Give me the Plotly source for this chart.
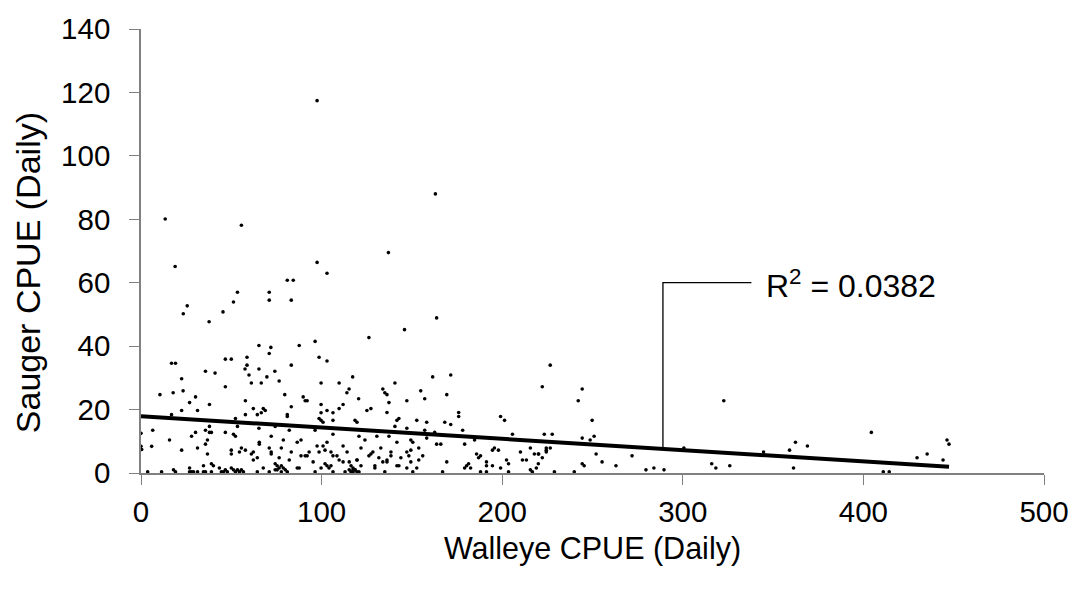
import plotly.graph_objects as go

# ---- data (Walleye CPUE vs Sauger CPUE, daily) ----
walleye = [
    0, 0, 0.4, 5.9, 6.5, 3.7,
    97.5, 13.4, 55.6, 18.9, 97.5, 103, 137, 163,
    81, 84.3, 53.4, 71, 71, 83.2, 51.2, 25.6, 23.4, 45.4, 37.7, 65.3, 71.9, 71, 87.6, 96.4, 98.6, 103,
    16.9, 19.1, 46.7, 50, 58.7, 58.7, 57.6, 65.3, 83.2, 35.7, 41, 59.8, 74.1, 69.7, 117.2, 22.5, 61.1,
    66.6, 76.5, 99.7, 109.7, 46.7, 115.2, 114, 10.5, 17.8, 23.3, 30.2, 79.6, 89.8, 90.9, 92, 120.5,
    26.9, 31.3, 22.5, 37.9, 57.8, 57.8, 62.2, 64.4, 66.6, 67.7, 68.8, 81, 81, 83.2, 99.7, 99.7, 98.6,
    99.7, 100.8, 103, 106.3, 106.3, 109.7, 111.9, 118.5, 119.6, 16.9, 52.3,
    37.9, 37.9, 35.7, 39, 53.4, 30.2, 28, 46.7, 51.2, 52.3, 65.3, 74.3, 82.1, 96.4, 106.3, 72.1, 65.5,
    65.5, 15.8, 22.5, 36.8, 35.7, 31.3, 36.8, 50, 50, 55.6, 54.5, 57.8, 62.2, 62.2, 61.1, 64.4, 71,
    72.1, 72.1, 78.8, 77.7, 76.5, 83.2, 82.1, 86.5, 88.6, 88.6, 90.9, 93.1, 92, 95.3,
    97.5, 98.6, 100.8, 101.9, 103, 105.2, 106.3, 108.5, 109.7, 111.9, 111.9, 114.1, 116.3, 119.6, 117.4,
    11.4, 18, 19.1, 26.9, 26.9, 28, 29.1, 31.3, 34.6, 34.6, 35.7, 39, 39, 40.1, 43.4, 44.5, 45.6, 46.7,
    47.8, 50, 51.2, 52.3, 53.4, 54.5, 55.6, 56.7, 64.4, 67.7, 71, 74.3, 74.3, 75.4, 75.4, 76.5, 77.7,
    77.7, 78.8, 79.9, 81, 86.5, 87.6, 96.4, 99.7, 101.9, 103, 104.1, 105.2, 106.3, 113, 117.4, 118.5, 119.6,
    163.7, 145.9, 126.2, 140.6, 161.5, 171.5, 133.9, 135, 136.2, 154.9, 157.1, 169.3, 147.2, 137.3,
    125.1, 127.3, 136.2, 175.9, 175.9, 199.1, 201.3, 222.2, 141.7, 142.8, 140.6, 152.7, 158.2, 168.2,
    171.5, 147.2, 157.1, 158.2, 162.6, 178.1, 205.7, 223.3, 120.7, 130.6, 137.3, 124, 141.7, 149.4,
    150.5, 163.7, 166, 179.2, 184.7, 224.4, 224.4, 121.8, 132.8, 138.4, 138.4, 128.4, 127.3, 126.2,
    147.2, 149.4, 148.3, 153.8, 156, 194.6, 195.7, 197.9, 185.8, 186.9, 188, 210.1, 215.6, 217.8, 220,
    211.2, 213.4, 222.2, 220, 115.3, 119.6, 121.8, 117.4, 129.5, 129.5, 131.7, 133.9, 136.2, 136.2,
    141.7, 142.8, 143.9, 147.2, 149.4, 150.5, 152.7, 153.8, 167, 169.3, 179.2, 180.3, 181.4, 182.5,
    188, 191.3, 191.3, 191.3, 194.6, 199.1, 202.4, 203.5, 203.5, 215.6, 216.7, 218.9, 115.3, 116.3,
    118.5, 120.7, 135,
    226.6, 244.3, 242.1, 249.8, 227.7, 244.3, 248.7, 250.9, 220.2, 224.4, 226.6, 228.9, 239.9, 244.3,
    245.4, 252, 255.3, 263, 271.9, 279.6, 284, 289.6, 300.6, 322.7, 316, 318.3, 326, 344.7,
    359.1, 362.4, 369, 361.3, 404.4, 411, 414.3, 429.7, 435.3, 444.1, 446.3, 447.4,
]
sauger = [
    12.5, 8.4, 7.4, 8.4, 13.5, 0.4,
    117.4, 80.1, 78.1, 65.1, 66.4, 63, 69.5, 88,
    60.8, 60.8, 57, 57, 54.5, 54.5, 53.9, 52.7, 50.2, 50.8, 47.7, 40.2, 39.6, 37.7, 40.2, 41.5, 36.5, 35.3,
    34.6, 34.6, 35.9, 35.9, 36.5, 34, 32.8, 32.8, 34, 32.1, 31.5, 30.9, 32.1, 30.3, 30.3, 29.7, 28.4,
    28.4, 29, 28.4, 28.4, 27.2, 26.5, 25.3, 24.7, 25.3, 25.9, 24, 24.7, 24, 22.8, 22.8, 23.4,
    22.2, 19.7, 19.7, 21.6, 22.8, 18.4, 20.3, 18.4, 19, 20.3, 19.7, 18.4, 17.8, 20.9, 21.6, 19, 17.2,
    16.6, 16, 19.7, 19, 16.6, 20.3, 21.6, 16.6, 16, 18.4, 17.2,
    14.7, 12.8, 13.5, 12.8, 14.7, 12.8, 11.6, 12.8, 12.2, 11.6, 14.1, 14.7, 13.5, 13.5, 12.2, 11.6, 9.7,
    9.1, 10.4, 7.2, 10.4, 9.1, 7.9, 6, 7.2, 6, 7.9, 6.6, 7.2, 6.6, 4.1, 6, 4.8, 7.9,
    6.6, 6, 10.4, 7.9, 4.8, 6.6, 4.1, 9.7, 10.4, 5.4, 5.4, 6.6, 5.4, 3.5,
    8.5, 6.6, 8.5, 7.2, 9.7, 6.6, 5.4, 5.4, 4.1, 8.5, 3.5, 6.6, 2.3, 4.1, 1.0,
    0.4, 1.0, 0.4, 1.6, 0.4, 0.4, 0.4, 0.4, 2.3, 0.4, 0.4, 2.9, 0.4, 2.3, 1.6, 0.4, 0.4, 1.0,
    0.4, 1.6, 1.0, 0.4, 1.0, 0.4, 1.0, 0.4, 0.4, 1.6, 0.4, 1.0, 2.9, 2.3, 1.0, 1.6, 2.3,
    0.4, 1.6, 1.0, 0.4, 1.6, 1.6, 0.4, 1.6, 2.9, 2.3, 1.6, 2.3, 0.4, 0.4, 0.4, 1.0, 0.4,
    48.9, 45.2, 42.7, 28.4, 30.3, 30.9, 26.5, 25.3, 24.7, 25.9, 23.4, 24.7, 22.8, 22.2,
    19.7, 20.3, 19.1, 19.1, 17.8, 17.8, 16.6, 27.2, 16.6, 17.2, 14.7, 16.6, 16, 16,
    15.3, 14.1, 13.5, 11, 12.8, 13.5, 12.2, 12.2, 11.6, 11.6, 11.6, 10.4, 9.7, 10.4,
    9.7, 9.1, 9.1, 9.1, 10.4, 7.9, 6.6, 7.9, 7.9, 6.6, 5.4, 6.6, 6, 5.4,
    6.6, 7.2, 5.4, 7.9, 5.4, 7.2, 7.9, 7.2, 6, 4.8, 5.4, 6.6, 7.9, 6, 6,
    4.1, 4.1, 4.8, 2.9, 3.5, 4.1, 2.3, 1.6, 2.3, 1.6, 4.8, 3.5, 4.1, 3.5,
    2.3, 2.3, 4.8, 1.6, 3.5, 0.4, 1.6, 4.1, 0.4, 3.5, 1.6, 2.3, 2.9, 1.6,
    0.4, 3.5, 2.3, 0.4, 2.3, 1.6, 4.1, 2.9, 0.4, 1.0, 0.4, 1.6, 1.0, 0.4,
    1.0, 0.4, 0.4,
    34, 26.5, 22.8, 16.6, 12.2, 11, 10.4, 11.6, 6, 7.2, 7.9, 0.4, 0.4, 2.9,
    2.3, 6, 3.5, 2.3, 5.4, 1.0, 1.6, 1.0, 7.9, 22.8, 2.9, 1.6, 2.3, 6.6,
    7.2, 9.7, 8.5, 1.6, 12.8, 0.4, 0.4, 4.8, 6, 4.1, 10.4, 9.1,
]

# linear trend (as shown in the reference)
trend_intercept = 17.9
trend_slope = -0.0356
trend_x = [0, max(walleye)]
trend_y = [trend_intercept + trend_slope * v for v in trend_x]

r2_label = "R<sup>2</sup> = 0.0382"
leader_x = 289       # x where the leader line meets the trend line
leader_top = 60      # y of the leader's elbow
label_x = 338        # end of the horizontal leader / text start

x_ticks = [0, 100, 200, 300, 400, 500]
y_ticks = [0, 20, 40, 60, 80, 100, 120, 140]
x_title = "Walleye CPUE (Daily)"
y_title = "Sauger CPUE (Daily)"

FONT = "Liberation Sans, Arial, sans-serif"

fig = go.Figure()
fig.add_trace(go.Scatter(
    x=walleye, y=sauger, mode="markers",
    marker=dict(color="black", size=3.6, line=dict(width=0)),
    showlegend=False, hoverinfo="x+y",
))
fig.add_trace(go.Scatter(
    x=trend_x, y=trend_y, mode="lines",
    line=dict(color="black", width=4),
    showlegend=False, hoverinfo="skip",
))

leader_bottom = trend_intercept + trend_slope * leader_x
fig.add_shape(type="path",
              path=f"M {leader_x},{leader_bottom} L {leader_x},{leader_top} L {label_x},{leader_top}",
              xref="x", yref="y", line=dict(color="black", width=1.3))
fig.add_annotation(x=label_x, y=leader_top, xref="x", yref="y",
                   text=r2_label, showarrow=False, xanchor="left", yanchor="middle",
                   xshift=13, yshift=-1, font=dict(family=FONT, size=32, color="black"))

# y-axis title placed as rotated text left of the tick labels
fig.add_annotation(x=0, y=0.45, xref="paper", yref="paper",
                   text=y_title, showarrow=False, textangle=-90,
                   xanchor="center", yanchor="middle", xshift=-113,
                   font=dict(family=FONT, size=34, color="black"))

axis_common = dict(
    showgrid=False, zeroline=False, showline=True, linecolor="#808080", linewidth=1.5,
    ticks="outside", ticklen=10, tickwidth=1.3, tickcolor="#808080",
    tickfont=dict(family=FONT, size=29.5, color="black"),
)
fig.update_xaxes(range=[0, 500], tickvals=x_ticks, **axis_common, ticklabelstandoff=2,
                 title=dict(text=x_title, font=dict(family=FONT, size=30.5, color="black"),
                            standoff=10))
fig.update_yaxes(range=[0, 140], tickvals=y_ticks, **axis_common, ticklabelstandoff=13)
fig.update_layout(
    width=1081, height=591,
    margin=dict(l=141, r=34, t=23, b=118),
    paper_bgcolor="white", plot_bgcolor="white",
    font=dict(family=FONT),
)
fig.write_html("out.html")
